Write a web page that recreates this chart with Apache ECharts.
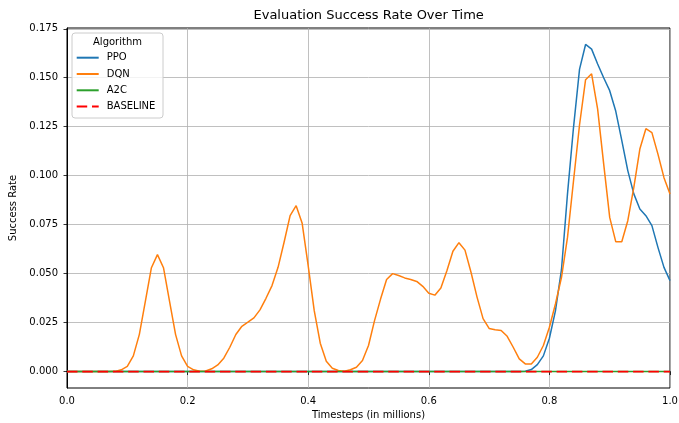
<!DOCTYPE html>
<html>
<head>
<meta charset="utf-8">
<script src="https://cdn.jsdelivr.net/npm/echarts@6/dist/echarts.min.js"></script>
<style>html,body{margin:0;padding:0;background:#fff;}#c{width:679px;height:423px;}</style>
</head>
<body>
<div id="c"></div>
<script>
const timesteps = [
0.00,0.01,0.02,0.03,0.04,0.05,0.06,0.07,0.08,0.09,
0.10,0.11,0.12,0.13,0.14,0.15,0.16,0.17,0.18,0.19,
0.20,0.21,0.22,0.23,0.24,0.25,0.26,0.27,0.28,0.29,
0.30,0.31,0.32,0.33,0.34,0.35,0.36,0.37,0.38,0.39,
0.40,0.41,0.42,0.43,0.44,0.45,0.46,0.47,0.48,0.49,
0.50,0.51,0.52,0.53,0.54,0.55,0.56,0.57,0.58,0.59,
0.60,0.61,0.62,0.63,0.64,0.65,0.66,0.67,0.68,0.69,
0.70,0.71,0.72,0.73,0.74,0.75,0.76,0.77,0.78,0.79,
0.80,0.81,0.82,0.83,0.84,0.85,0.86,0.87,0.88,0.89,
0.90,0.91,0.92,0.93,0.94,0.95,0.96,0.97,0.98,0.99,
1.00];
const ppo = [
0,0,0,0,0,0,0,0,0,0,
0,0,0,0,0,0,0,0,0,0,
0,0,0,0,0,0,0,0,0,0,
0,0,0,0,0,0,0,0,0,0,
0,0,0,0,0,0,0,0,0,0,
0,0,0,0,0,0,0,0,0,0,
0,0,0,0,0,0,0,0,0,0,
0,0,0,0,0,0,0.0002,0.001,0.0035,0.008,
0.017,0.031,0.052,0.0907,0.1247,0.1544,0.167,0.1646,0.157,0.150,
0.1434,0.133,0.118,0.1026,0.0907,0.083,0.0796,0.0745,0.0634,0.0532,
0.0464];
const dqn = [
0,0,0,0,0,0,0,0,0.0001,0.0009,
0.0026,0.008,0.019,0.036,0.053,0.0597,0.053,0.036,0.019,0.008,
0.0026,0.0009,0.0002,0.0003,0.0014,0.0034,0.0068,0.0124,0.0189,0.0231,
0.0252,0.0274,0.0315,0.0374,0.0439,0.0532,0.066,0.0796,0.0847,0.0757,
0.054,0.0311,0.0145,0.0053,0.0017,0.0005,0.0002,0.0009,0.0022,0.0056,
0.0133,0.026,0.037,0.047,0.050,0.049,0.0478,0.047,0.046,0.0435,
0.040,0.039,0.0427,0.0515,0.0614,0.0658,0.062,0.0507,0.038,0.027,
0.022,0.0213,0.021,0.018,0.0124,0.0065,0.0039,0.0039,0.0073,0.0133,
0.0226,0.0345,0.048,0.0685,0.0974,0.126,0.149,0.152,0.134,0.106,
0.0787,0.0663,0.0663,0.077,0.094,0.1136,0.124,0.122,0.111,0.099,
0.0907];
const a2c = [
0,0,0,0,0,0,0,0,0,0,
0,0,0,0,0,0,0,0,0,0,
0,0,0,0,0,0,0,0,0,0,
0,0,0,0,0,0,0,0,0,0,
0,0,0,0,0,0,0,0,0,0,
0,0,0,0,0,0,0,0,0,0,
0,0,0,0,0,0,0,0,0,0,
0,0,0,0,0,0,0,0,0,0,
0,0,0,0,0,0,0,0,0,0,
0,0,0,0,0,0,0,0,0,0,
0];
const baseline = [
0,0,0,0,0,0,0,0,0,0,
0,0,0,0,0,0,0,0,0,0,
0,0,0,0,0,0,0,0,0,0,
0,0,0,0,0,0,0,0,0,0,
0,0,0,0,0,0,0,0,0,0,
0,0,0,0,0,0,0,0,0,0,
0,0,0,0,0,0,0,0,0,0,
0,0,0,0,0,0,0,0,0,0,
0,0,0,0,0,0,0,0,0,0,
0,0,0,0,0,0,0,0,0,0,
0];
const xTicks = [0, 0.2, 0.4, 0.6, 0.8, 1.0];
const yTicks = [0, 0.025, 0.05, 0.075, 0.1, 0.125, 0.15, 0.175];
const seriesNames = ['PPO', 'DQN', 'A2C', 'BASELINE'];

const pair = (vals) => timesteps.map((t, i) => [t, vals[i]]);
const FONT = 'DejaVu Sans';
const chart = echarts.init(document.getElementById('c'), null, {renderer: 'canvas'});
chart.setOption({
  animation: false,
  backgroundColor: '#fff',
  textStyle: {fontFamily: FONT},
  title: {
    text: 'Evaluation Success Rate Over Time',
    left: 253.5, top: 9.5, padding: 0,
    textStyle: {fontFamily: FONT, fontSize: 13, fontWeight: 'normal', color: '#000'}
  },
  grid: {left: 67, right: 9, top: 28, bottom: 35, outerBoundsMode: 'none', containLabel: false,
         show: true, borderColor: '#000', borderWidth: 1, backgroundColor: 'transparent'},
  xAxis: {
    type: 'value', min: 0, max: 1, interval: 0.2,
    name: 'Timesteps (in millions)', nameLocation: 'middle', nameGap: 21,
    nameTextStyle: {fontFamily: FONT, fontSize: 10, color: '#000'},
    axisLine: {show: true, lineStyle: {color: '#000', width: 1}},
    axisTick: {show: true, length: 3.5, lineStyle: {color: '#000', width: 0.8}, customValues: xTicks},
    axisLabel: {fontFamily: FONT, fontSize: 10, color: '#000', margin: 8, customValues: xTicks, formatter: v => v.toFixed(1)},
    splitLine: {show: true, lineStyle: {color: '#b0b0b0', width: 0.8}}
  },
  yAxis: {
    type: 'value', min: -0.0084, max: 0.1754,
    name: 'Success Rate', nameLocation: 'middle', nameGap: 43,
    nameTextStyle: {fontFamily: FONT, fontSize: 10, color: '#000'},
    axisLine: {show: true, lineStyle: {color: '#000', width: 1}},
    axisTick: {show: true, length: 3.5, lineStyle: {color: '#000', width: 0.8}, customValues: yTicks},
    axisLabel: {fontFamily: FONT, fontSize: 10, color: '#000', margin: 9, customValues: yTicks, formatter: v => v.toFixed(3)},
    splitLine: {show: true, lineStyle: {color: '#b0b0b0', width: 0.8}}
  },
  legend: {
    orient: 'vertical', left: 75.7, top: 51.7, padding: 0,
    itemWidth: 22, itemHeight: 12, itemGap: 4.3,
    data: seriesNames,
    itemStyle: {opacity: 0},
    textStyle: {fontFamily: FONT, fontSize: 10, color: '#000', lineHeight: 12, padding: [0, 0, 0, 3]},
    z: 10
  },
  graphic: [
    {type: 'rect', z: 8, shape: {x: 72, y: 33, width: 91, height: 85, r: 3},
     style: {fill: 'rgba(255,255,255,0.8)', stroke: '#cccccc', lineWidth: 1}},
    {type: 'text', z: 10, x: 117.5, y: 42.5,
     style: {text: 'Algorithm', font: '10px "DejaVu Sans"', fill: '#000', textAlign: 'center', textVerticalAlign: 'middle'}}
  ],
  series: [
    {name: 'PPO', type: 'line', data: pair(ppo), symbol: 'none', lineStyle: {color: '#1f77b4', width: 1.5}, itemStyle: {color: '#1f77b4'}},
    {name: 'DQN', type: 'line', data: pair(dqn), symbol: 'none', lineStyle: {color: '#ff7f0e', width: 1.5}, itemStyle: {color: '#ff7f0e'}},
    {name: 'A2C', type: 'line', data: pair(a2c), symbol: 'none', lineStyle: {color: '#2ca02c', width: 1.5}, itemStyle: {color: '#2ca02c'}},
    {name: 'BASELINE', type: 'line', data: pair(baseline), symbol: 'none', lineStyle: {color: '#ff0000', width: 1.8, type: [10.5, 4.8]}, itemStyle: {color: '#ff0000'}}
  ]
});
</script>
</body>
</html>
